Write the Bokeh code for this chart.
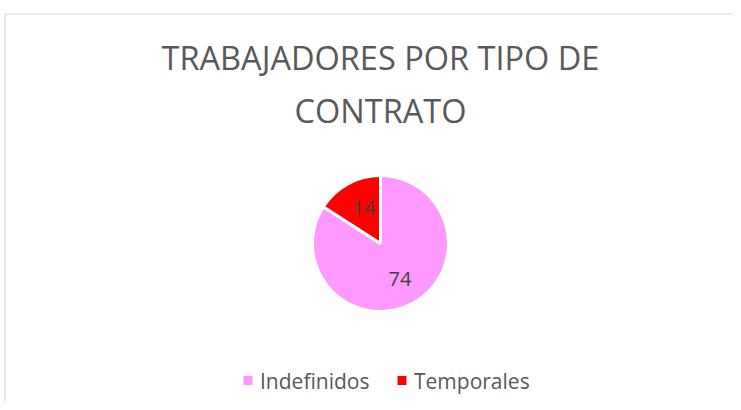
import math
from bokeh.plotting import figure
from bokeh.models import Range1d
from bokeh.core.properties import value
from bokeh.embed import file_html
from bokeh.resources import INLINE

title_lines = ["TRABAJADORES POR TIPO DE", "CONTRATO"]
categories = ["Indefinidos", "Temporales"]
counts = [74, 14]
colors = ["#FF99FF", "#FF0000"]

W, H = 733, 402
p = figure(width=W, height=H, output_backend="svg", toolbar_location=None,
           x_range=Range1d(0, W), y_range=Range1d(-H, 0),
           min_border=0, outline_line_color=None)
p.axis.visible = False
p.grid.visible = False
p.background_fill_color = "white"

# chart border (top and left visible)
p.segment(x0=[4.5, 4.5], y0=[-13.5, -13.5], x1=[W, 4.5], y1=[-13.5, -H],
          line_color="#D9D9D9", line_width=1)

# title
p.text(x=[380, 380], y=[-57, -110], text=title_lines, text_align="center",
       text_baseline="middle", text_font=value("Open Sans"),
       text_font_size="32.5px", text_color="#595959")

# pie
cx, cy, r = 380, -243, 68
total = sum(counts)
starts, ends, mids = [], [], []
a = math.pi / 2
for c in counts:
    sweep = 2 * math.pi * c / total
    starts.append(a)
    ends.append(a - sweep)
    mids.append(a - sweep / 2)
    a -= sweep
p.wedge(x=cx, y=cy, radius=r, start_angle=starts, end_angle=ends,
        direction="clock", fill_color=colors, line_color="white",
        line_width=3)

lx = [cx + 0.6 * r * math.cos(m) for m in mids]
ly = [cy + 0.6 * r * math.sin(m) for m in mids]
lx[1] += 3
p.text(x=lx, y=ly, text=[str(c) for c in counts], text_align="center",
       text_baseline="middle", text_font=value("Open Sans"),
       text_font_size="20px", text_color="#404040")

# legend (drawn manually)
sq_x = [247.5, 401.5]
p.rect(x=sq_x, y=[-380, -380], width=9, height=9, fill_color=colors,
       line_color=None)
p.text(x=[sx + 12 for sx in sq_x], y=[-380, -380], text=categories,
       text_align="left", text_baseline="middle",
       text_font=value("Open Sans"), text_font_size="21px",
       text_color="#595959")

open("out.html", "w").write(file_html(p, INLINE))
